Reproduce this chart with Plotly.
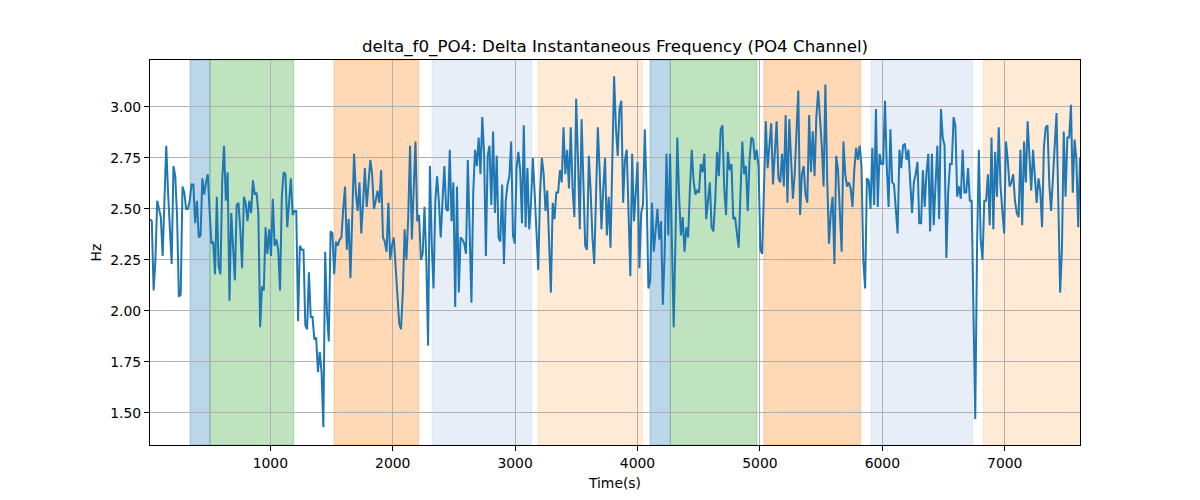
import numpy as np
import plotly.graph_objects as go

# ---- data ----
t_start = 17.0
t_end = 7615.0

seg1 = [2.45, 2.44, 2.10, 2.25, 2.54, 2.50, 2.46, 2.27, 2.51, 2.81, 2.58, 2.41, 2.23, 2.71, 2.66, 2.46, 2.07, 2.08, 2.61, 2.58,
        2.50, 2.50, 2.54, 2.62, 2.62, 2.43, 2.54, 2.36, 2.37, 2.65, 2.57, 2.63, 2.67, 2.49, 2.33, 2.34, 2.18, 2.56, 2.22, 2.18,
        2.64, 2.81, 2.54, 2.68, 2.05, 2.48, 2.32, 2.15, 2.52, 2.53, 2.40, 2.21, 2.56, 2.53, 2.44, 2.54, 2.48, 2.64, 2.57, 2.58,
        2.48, 1.92, 2.12, 2.10, 2.41, 2.28, 2.40]
seg2 = [2.27, 2.55, 2.32, 2.35, 2.30, 2.10, 2.56, 2.68, 2.67, 2.41, 2.53, 2.65, 2.47, 2.49, 2.49, 1.95, 2.32, 2.30, 2.30, 1.93,
        1.91, 2.19, 1.97, 1.97, 1.86, 1.87, 1.70, 1.80, 1.70, 1.43, 2.29, 1.99, 1.85, 2.39, 2.38, 2.18, 2.34, 2.32, 2.35, 2.36,
        2.50, 2.61, 2.30, 2.45, 2.16, 2.53, 2.77, 2.58, 2.49, 2.63, 2.38, 2.53, 2.70, 2.51, 2.62, 2.74, 2.67, 2.50, 2.54, 2.59,
        2.53, 2.69, 2.36, 2.34, 2.29, 2.53, 2.25]
seg3 = [2.32, 2.36, 2.22, 2.05, 1.94, 1.91, 2.09, 2.40, 2.25, 2.46, 2.81, 2.35, 2.63, 2.83, 2.44, 2.47, 2.25, 2.28, 2.51, 2.25,
        1.83, 2.71, 2.33, 2.11, 2.54, 2.66, 2.53, 2.36, 2.54, 2.71, 2.50, 2.49, 2.79, 2.44, 2.63, 2.02, 2.61, 2.09, 2.36, 2.35,
        2.33, 2.28, 2.74, 2.32, 2.04, 2.58, 2.79, 2.71, 2.85, 2.67, 2.95, 2.77, 2.27, 2.76, 2.81, 2.52, 2.88, 2.48, 2.76, 2.36,
        2.34, 2.62, 2.23]
seg4 = [2.54, 2.62, 2.66, 2.83, 2.37, 2.33, 2.70, 2.78, 2.69, 2.43, 2.91, 2.41, 2.70, 2.40, 2.53, 2.75, 2.58, 2.36, 2.20, 2.58,
        2.75, 2.67, 2.49, 2.59, 2.35, 2.09, 2.53, 2.45, 2.58, 2.58, 2.69, 2.63, 2.90, 2.67, 2.79, 2.60, 2.90, 2.60, 2.46, 3.04,
        2.74, 2.40, 2.94, 2.63, 2.32, 2.30, 2.76, 2.59, 2.36, 2.23, 2.54, 2.90, 2.69, 2.40, 2.60, 2.75, 2.37, 2.56, 2.31, 2.77,
        3.15, 2.90, 2.76]
seg5 = [2.99, 3.03, 2.53, 2.74, 2.79, 2.51, 2.17, 2.77, 2.44, 2.58, 2.73, 2.21, 2.48, 2.52, 2.89, 2.58, 2.11, 2.15, 2.53, 2.29,
        2.38, 2.50, 2.35, 2.44, 2.03, 2.28, 2.77, 2.37, 2.77, 2.38, 1.92, 2.36, 2.85, 2.56, 2.37, 2.46, 2.29, 2.41, 2.36, 2.60,
        2.79, 2.64, 2.57, 2.59, 2.58, 2.72, 2.68, 2.77, 2.45, 2.54, 2.63, 2.41, 2.39, 2.54, 2.78, 2.66, 2.89, 2.91, 2.60, 2.47,
        2.78, 2.69, 2.72, 2.45]
seg6 = [2.46, 2.38, 2.31, 2.58, 2.83, 2.67, 2.71, 2.49, 2.74, 2.85, 2.84, 2.74, 2.79, 2.71, 2.30, 2.28, 2.58, 2.93, 2.70, 2.82,
        2.92, 2.62, 2.79, 2.93, 2.65, 2.63, 2.77, 2.61, 2.96, 2.53, 2.94, 2.71, 2.55, 2.67, 2.90, 3.08, 2.47, 2.67, 2.71, 2.57,
        2.53, 2.96, 2.68, 2.88, 2.66, 2.95, 3.08, 2.95, 2.81, 2.61, 3.11, 2.65, 2.33, 2.48, 2.56, 2.23, 2.76, 2.69, 2.51, 2.29,
        2.83, 2.67]
seg7 = [2.61, 2.63, 2.60, 2.51, 2.69, 2.80, 2.74, 2.81, 2.71, 2.25, 2.11, 2.65, 2.64, 2.50, 2.80, 2.52, 2.99, 2.51, 2.77, 2.72,
        2.72, 3.03, 2.71, 2.51, 2.89, 2.63, 2.62, 2.50, 2.38, 2.79, 2.70, 2.81, 2.82, 2.74, 2.79, 2.63, 2.48, 2.63, 2.67, 2.73,
        2.43, 2.43, 2.69, 2.51, 2.68, 2.77, 2.39, 2.77, 2.42, 2.62, 2.81, 2.45, 2.99, 2.85, 2.81, 2.26, 2.58, 2.72, 2.72, 2.95,
        2.91, 2.56, 2.61, 2.55]
seg8 = [2.79, 2.58, 2.58, 2.70, 2.54, 2.54, 2.02, 1.47, 2.32, 2.79, 2.35, 2.25, 2.54, 2.54, 2.67, 2.42, 2.85, 2.40, 2.78, 2.56,
        2.90, 2.61, 2.49, 2.38, 2.83, 2.74, 2.61, 2.63, 2.67, 2.54, 2.48, 2.46, 2.79, 2.42, 2.83, 2.63, 2.93, 2.76, 2.59, 2.79,
        2.66, 2.53, 2.65, 2.59, 2.41, 2.80, 2.90, 2.91, 2.62, 2.49, 2.65, 2.81, 2.97, 2.53, 2.09, 2.30, 2.88, 2.56, 2.85, 2.85,
        3.01, 2.58, 2.84, 2.74, 2.41, 2.75]

delta_f0 = seg1 + seg2 + seg3 + seg4 + seg5 + seg6 + seg7 + seg8
time_s = np.linspace(t_start, t_end, len(delta_f0))

span_starts = [344, 507, 1520, 2321, 3187, 4102, 4268, 5033, 5907, 6825]
span_ends = [507, 1191, 2212, 3135, 4039, 4268, 4976, 5823, 6738, 7700]
span_colors = ["#1f77b4", "#2ca02c", "#ff7f0e", "#aec7e8", "#ffbb78",
               "#1f77b4", "#2ca02c", "#ff7f0e", "#aec7e8", "#ffbb78"]

x_ticks = [1000, 2000, 3000, 4000, 5000, 6000, 7000]
y_ticks = [1.50, 1.75, 2.00, 2.25, 2.50, 2.75, 3.00]


def rgba(hexc, a):
    h = hexc.lstrip("#")
    r, g, b = int(h[0:2], 16), int(h[2:4], 16), int(h[4:6], 16)
    return f"rgba({r},{g},{b},{a})"


fig = go.Figure()
fig.add_trace(go.Scatter(x=time_s, y=delta_f0, mode="lines",
                         line=dict(color="#1f77b4", width=2), showlegend=False))

for s, e, c in zip(span_starts, span_ends, span_colors):
    fig.add_shape(type="rect", xref="x", yref="paper", x0=s, x1=e, y0=0, y1=1,
                  fillcolor=rgba(c, 0.3), line=dict(color=rgba(c, 0.3), width=1),
                  layer="below")

font_family = "DejaVu Sans"
fig.update_layout(
    width=1200, height=500,
    margin=dict(l=150, r=120, t=60, b=55),
    paper_bgcolor="white", plot_bgcolor="white",
    font=dict(family=font_family, size=14, color="black"),
    title=dict(text="delta_f0_PO4: Delta Instantaneous Frequency (PO4 Channel)",
               x=0.5125, xanchor="center", xref="container",
               y=1 - 46 / 500, yanchor="middle", yref="container",
               font=dict(family=font_family, size=16.7, color="black")),
)
fig.update_xaxes(range=[t_start, t_end], tickvals=x_ticks,
                 showgrid=True, gridcolor="#b0b0b0", gridwidth=1,
                 showline=True, linecolor="black", linewidth=1, mirror=True,
                 ticks="outside", ticklen=5, tickcolor="black",
                 zeroline=False, tickfont=dict(size=13.9),
                 title=dict(text="Time(s)", font=dict(size=13.9), standoff=8))
fig.update_yaxes(range=[1.343, 3.230], tickvals=y_ticks, tickformat=".2f",
                 showgrid=True, gridcolor="#b0b0b0", gridwidth=1,
                 showline=True, linecolor="black", linewidth=1, mirror=True,
                 ticks="outside", ticklen=5, tickcolor="black",
                 zeroline=False, tickfont=dict(size=13.9),
                 title=dict(text="Hz", font=dict(size=13.9), standoff=5))

fig.write_html("out.html", config={"displayModeBar": False},
               post_script="document.body.style.margin='0';")
